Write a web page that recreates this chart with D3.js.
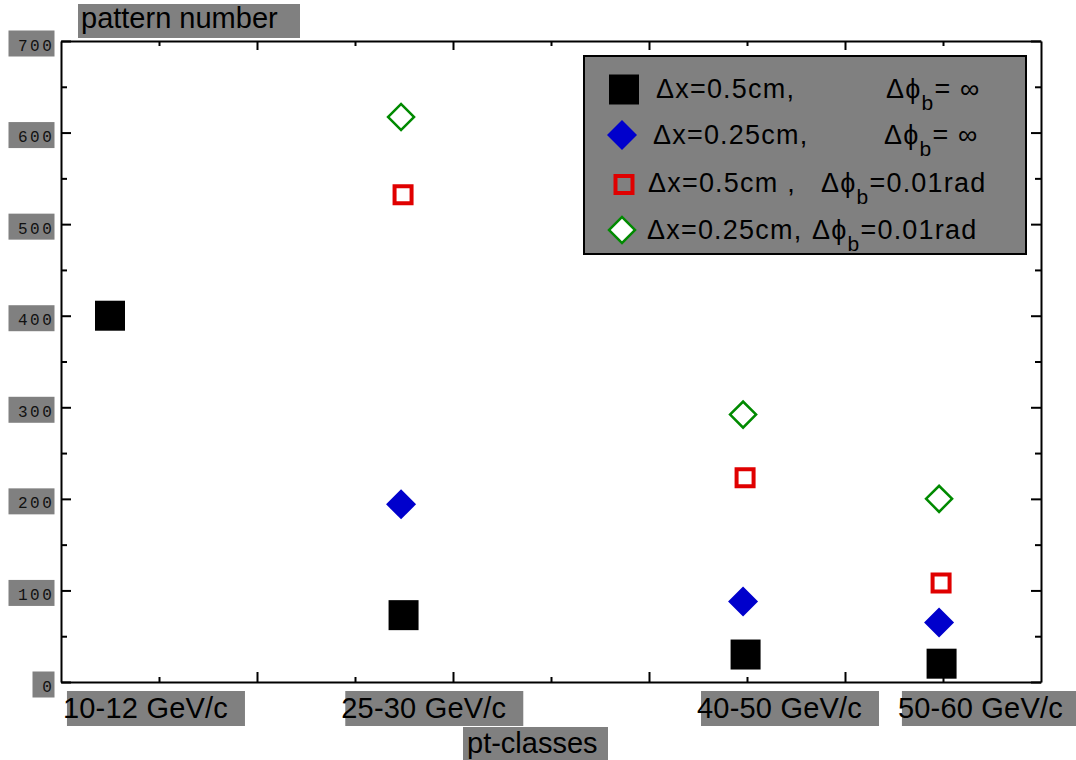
<!DOCTYPE html>
<html><head><meta charset="utf-8">
<script src="https://cdn.jsdelivr.net/npm/d3@7"></script>
<style>body{margin:0;background:#fff}svg{display:block}</style>
</head><body><svg id="c" width="1076" height="760"></svg>
<script>
// ---------- data ----------
const categories = ["10-12 GeV/c", "25-30 GeV/c", "40-50 GeV/c", "50-60 GeV/c"];
const categoryX = [0.5, 3.47, 6.96, 8.96];          // position on the pt-class axis (0..10)
const categoryLabelX = [0.02, 2.86, 6.49, 8.54];    // where each label starts on that axis
const blackSquares = [400, 73, 30, 20];             // Δx=0.5cm,  Δφb=∞
const blueDiamonds = [null, 194, 88, 65];           // Δx=0.25cm, Δφb=∞
const redSquares = [null, 532, 223, 108];           // Δx=0.5cm,  Δφb=0.01rad
const greenDiamonds = [null, 617, 292, 200];        // Δx=0.25cm, Δφb=0.01rad
const yMajorTicks = [0, 100, 200, 300, 400, 500, 600, 700];
const yMinorTicks = [50, 150, 250, 350, 450, 550, 650];
const xMajorTicks = [2, 4, 6, 8];
const xMinorTicks = [1, 3, 5, 7, 9];
const legendLeft = ["Δx=0.5cm,", "Δx=0.25cm,", "Δx=0.5cm ,", "Δx=0.25cm,"];
const legendRight = ["= ∞", "= ∞", "=0.01rad", "=0.01rad"];
const yTitle = "pattern number";
const xTitle = "pt-classes";

// ---------- layout ----------
const svg = d3.select("#c");
const L = 61, R = 1041, T = 41, B = 682;
const x = d3.scaleLinear().domain([0, 10]).range([L, R]);
const y = d3.scaleLinear().domain([0, 700]).range([B, T]);
const GRAY = "#808080";
const SANS = "'Liberation Sans', Arial, sans-serif";

function styleAxis(g) {
  g.selectAll("path,line").attr("stroke", "#000").attr("stroke-width", 2);
  g.selectAll("text").remove();
}
function addAxis(gen, ticks, size, tx, ty, keepDomain) {
  const g = svg.append("g").attr("transform", `translate(${tx},${ty})`)
    .call(gen.tickValues(ticks).tickSize(size).tickSizeOuter(0).tickFormat(""));
  styleAxis(g);
  if (!keepDomain) g.select(".domain").remove();
  g.select(".domain").attr("fill", "none");
  return g;
}
addAxis(d3.axisLeft(y), yMajorTicks, -10, L, 0, true);
addAxis(d3.axisLeft(y), yMinorTicks, -6, L, 0, false);
addAxis(d3.axisRight(y), yMajorTicks, -10, R, 0, true);
addAxis(d3.axisRight(y), yMinorTicks, -6, R, 0, false);
addAxis(d3.axisBottom(x), xMajorTicks, -10, 0, B, true);
addAxis(d3.axisBottom(x), xMinorTicks, -5, 0, B, false);
addAxis(d3.axisTop(x), xMajorTicks, -9, 0, T, true);
addAxis(d3.axisTop(x), xMinorTicks, -5, 0, T, false);

// y tick labels with gray boxes
const yl = svg.append("g").selectAll("g").data(yMajorTicks).join("g");
yl.append("rect")
  .attr("x", d => 54.5 - (10 + 12 * String(d).length))
  .attr("y", d => y(d) - 10.5)
  .attr("width", d => 10 + 12 * String(d).length)
  .attr("height", 26)
  .attr("fill", GRAY);
yl.append("text")
  .attr("x", 54.5).attr("y", d => y(d) + 9.6)
  .attr("text-anchor", "end")
  .attr("font-family", "'Liberation Mono', 'DejaVu Sans Mono', monospace")
  .attr("font-size", 16).attr("letter-spacing", 2.6)
  .attr("fill", "#111")
  .text(d => d);

// category labels
const cl = svg.append("g").selectAll("g").data(categories).join("g");
cl.append("rect")
  .attr("x", (d, i) => x(categoryLabelX[i]) + 4)
  .attr("y", 691).attr("width", 178).attr("height", 35)
  .attr("fill", GRAY);
cl.append("text")
  .attr("x", (d, i) => x(categoryLabelX[i]))
  .attr("y", 718)
  .attr("font-family", SANS).attr("font-size", 29).attr("letter-spacing", 0.2).attr("fill", "#000")
  .text(d => d);

// axis titles
svg.append("rect").attr("x", 463).attr("y", 727).attr("width", 145).attr("height", 33).attr("fill", GRAY);
svg.append("text").attr("x", 467).attr("y", 753).attr("font-family", SANS).attr("font-size", 29).text(xTitle);
svg.append("rect").attr("x", 78).attr("y", 4).attr("width", 222).attr("height", 34).attr("fill", GRAY);
svg.append("text").attr("x", 81).attr("y", 28).attr("font-family", SANS).attr("font-size", 29).text(yTitle);

// ---------- markers ----------
const styles = [
  { data: blackSquares, type: d3.symbolSquare, size: 900, rot: 0, fill: "#000", stroke: "none", sw: 0, dx: 2.5 },
  { data: blueDiamonds, type: d3.symbolSquare, size: 450, rot: 45, fill: "#0000cc", stroke: "none", sw: 0, dx: 0 },
  { data: redSquares, type: d3.symbolSquare, size: 289, rot: 0, fill: "none", stroke: "#e00000", sw: 4, dx: 2 },
  { data: greenDiamonds, type: d3.symbolSquare, size: 338, rot: 45, fill: "#fff", stroke: "#008a00", sw: 2.5, dx: 0 },
];
styles.forEach(s => {
  const pts = s.data.map((v, i) => ({ v, i })).filter(p => p.v != null);
  svg.append("g").selectAll("path").data(pts).join("path")
    .attr("d", d3.symbol().type(s.type).size(s.size))
    .attr("transform", p => `translate(${x(categoryX[p.i]) + (p.i === 0 ? 0 : s.dx)},${y(p.v)}) rotate(${s.rot})`)
    .attr("fill", s.fill).attr("stroke", s.stroke).attr("stroke-width", s.sw);
});

// ---------- legend ----------
const lg = svg.append("g");
lg.append("rect").attr("x", 584).attr("y", 56).attr("width", 442).attr("height", 198)
  .attr("fill", GRAY).attr("stroke", "#000").attr("stroke-width", 2);
const rowY = [98, 144, 192, 239];
const markerY = [89.5, 135, 184.5, 230];
const leftX = [656, 653, 648, 647];
const rightX = [886, 884, 821, 812];
styles.forEach((s, i) => {
  lg.append("path")
    .attr("d", d3.symbol().type(s.type).size(s.size))
    .attr("transform", `translate(${i === 1 || i === 3 ? 622 : 624},${markerY[i]}) rotate(${s.rot})`)
    .attr("fill", s.fill).attr("stroke", s.stroke).attr("stroke-width", s.sw);
  lg.append("text").attr("x", leftX[i]).attr("y", rowY[i])
    .attr("font-family", SANS).attr("font-size", 27).attr("letter-spacing", 1.2).text(legendLeft[i]);
  const t = lg.append("text").attr("x", rightX[i]).attr("y", rowY[i])
    .attr("font-family", SANS).attr("font-size", 27).attr("letter-spacing", 1.2);
  t.append("tspan").text("Δϕ");
  t.append("tspan").attr("dy", 11.6).attr("font-size", 21).text("b");
  t.append("tspan").attr("dy", -11.6).text(legendRight[i]);
});
</script></body></html>
